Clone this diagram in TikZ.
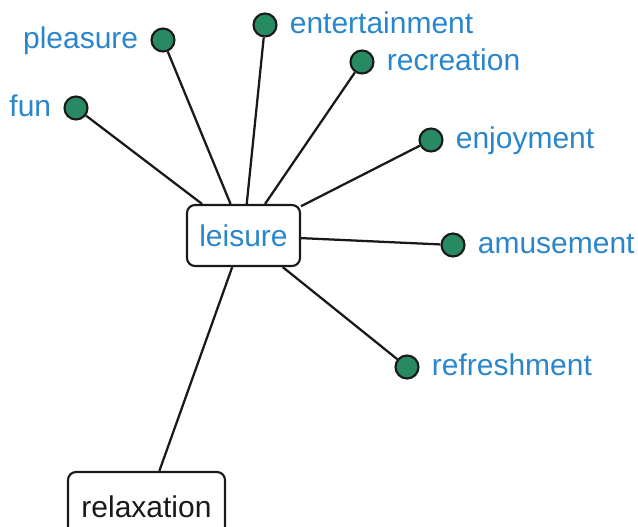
\documentclass[tikz,border=0pt]{standalone}
\usepackage{fontspec}
\setmainfont{Liberation Sans}
\usepackage{xcolor}
\usetikzlibrary{positioning}
\definecolor{figline}{RGB}{25,25,25}
\definecolor{figblue}{RGB}{42,134,204}
\definecolor{figdot}{RGB}{40,138,98}
\tikzset{
  bx/.style  ={draw=figline, line width=1.6pt, rounded corners=6pt, fill=white, inner sep=0pt, font=\fontsize{22.5}{27}\selectfont},
  dt/.style  ={circle, draw=figline, line width=1.6pt, fill=figdot, minimum size=17.25pt, inner sep=0pt},
  lab/.style ={text=figblue, inner sep=0pt, text height=16.5pt, text depth=4.5pt, font=\fontsize{22.5}{27}\selectfont},
  ln/.style  ={draw=figline, line width=1.7pt},
}
\begin{document}
\begin{tikzpicture}[x=0.75pt,y=-0.75pt,node distance=9pt]
  \useasboundingbox (0,0) rectangle (638,526);
  % centre box and its one child
  \node[bx,text=figblue,minimum width=84.75pt,minimum height=45.75pt] (ls) at (243.5,235.5) {leisure};
  \node[bx,text=figline,minimum width=117.75pt,minimum height=52.5pt] (rx) at (146.5,507) {relaxation};
  % leaf dots
  \node[dt] (pl) at (163,40) {};
  \node[dt] (fn) at (76,108) {};
  \node[dt] (et) at (265,25) {};
  \node[dt] (rc) at (362,62) {};
  \node[dt] (ej) at (431,140) {};
  \node[dt] (am) at (453,245) {};
  \node[dt] (rf) at (407,367) {};
  % leaf labels
  \node[lab,left=of pl] (plt) {pleasure};
  \node[lab,left=of fn] (fnt) {fun};
  \node[lab,right=of et] (ett) {entertainment};
  \node[lab,right=of rc] (rct) {recreation};
  \node[lab,right=of ej] (ejt) {enjoyment};
  \node[lab,right=of am] (amt) {amusement};
  \node[lab,right=of rf] (rft) {refreshment};
  % connectors
  \draw[ln] (pl) -- (ls);
  \draw[ln] (fn) -- (ls);
  \draw[ln] (et) -- (ls);
  \draw[ln] (rc) -- (ls);
  \draw[ln] (ej) -- (ls);
  \draw[ln] (am) -- (ls);
  \draw[ln] (rf) -- (ls);
  \draw[ln] (ls) -- (rx);
\end{tikzpicture}
\end{document}
